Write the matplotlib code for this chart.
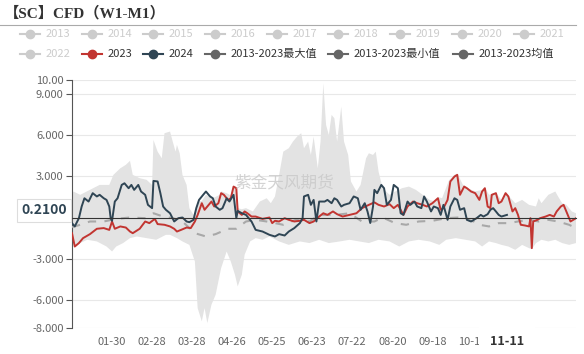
import numpy as np
import pandas as pd
import matplotlib
matplotlib.use("Agg")
import matplotlib.pyplot as plt
from matplotlib.lines import Line2D

plt.rcParams['font.family'] = ['Noto Sans CJK SC', 'DejaVu Sans']

#%% data (day index from 01-01 of a leap year, value)
dates = pd.date_range('2024-01-01', '2024-12-31').strftime('%m-%d')

red_x = [0,2,5,8,13,18,23,27,29,31,35,39,42,44,49,53,56,60,62,67,71,74,76,79,83,86,89,91,94,96,98,101,103,106,108,110,
         113,115,117,119,120,123,125,127,130,133,138,143,145,147,150,154,157,161,165,168,172,175,179,182,185,189,192,196,
         201,206,210,215,219,222,226,230,233,236,238,240,243,247,250,254,257,261,265,267,269,272,274,277,279,281,284,286,
         289,292,295,297,299,301,303,304,307,309,311,314,316,319,321,323,325,328,331,332,333,334,337,339,343,346,349,351,
         354,356,358,361,365]
red_y = [-1.14,-2.11,-1.86,-1.50,-1.21,-0.82,-0.77,-0.90,-0.29,-0.82,-0.65,-0.73,-1.02,-1.14,-0.82,-0.29,-0.41,-0.10,-0.48,
         -0.53,-0.65,-0.82,-1.02,-0.90,-0.73,-0.77,-0.29,0.19,1.04,0.56,0.80,1.16,0.80,1.04,1.77,1.65,1.28,1.40,2.25,2.13,
         0.44,0.19,0.44,0.31,0.07,0.07,-0.10,0.00,-0.41,-0.24,-0.29,-0.05,-0.17,-0.29,-0.24,-0.17,-0.41,-0.29,0.07,0.31,
         0.19,0.44,0.24,0.07,0.19,0.31,0.68,0.92,1.10,0.92,0.80,0.97,0.68,0.92,0.56,0.19,0.80,1.16,1.04,0.92,0.80,1.04,
         1.40,0.56,0.68,1.28,2.62,2.98,3.10,1.65,2.25,2.13,1.89,1.77,1.28,1.89,2.13,0.80,0.68,1.65,1.77,1.04,1.16,1.77,
         1.53,0.44,0.68,0.19,-0.53,-0.58,-0.65,-0.05,-2.23,-0.29,-0.17,-0.05,0.07,0.19,0.07,0.44,0.80,0.92,0.44,-0.29,-0.05]

dark_x = [0,2,5,7,9,12,15,18,20,23,25,27,28,29,31,33,36,38,41,43,45,48,50,53,55,58,59,62,64,66,68,71,74,77,80,83,85,88,
          90,92,95,97,100,102,104,107,109,112,114,117,118,119,120,123,126,130,133,138,143,147,150,154,157,161,165,167,168,
          171,173,175,177,179,183,185,188,190,192,195,197,201,204,207,209,212,214,216,218,219,221,224,226,228,231,233,236,
          238,240,243,245,248,250,253,255,257,260,262,265,267,269,272,274,277,279,281,284,286,289,293,296,298,301,303,305,
          307,309,311,315]
dark_y = [-0.41,-0.65,-0.05,0.80,1.40,1.16,1.77,1.53,1.65,1.40,1.28,0.80,-0.05,-0.24,1.16,1.40,2.37,2.49,2.13,2.37,2.01,
          2.37,1.89,1.65,0.92,0.68,2.66,2.62,1.77,0.80,0.56,0.31,-0.29,-0.05,0.00,-0.29,-0.34,-0.17,0.68,1.28,1.65,1.89,
          1.53,1.40,0.80,0.56,0.68,1.40,1.16,1.65,0.80,-0.05,0.48,0.31,0.19,-0.29,-0.90,-1.02,-1.26,-1.38,-1.21,-1.31,
          -1.02,-0.77,-0.41,-0.05,1.53,1.65,0.92,1.28,-0.29,1.16,1.16,1.28,1.04,1.40,1.28,0.80,0.92,1.04,1.53,1.40,0.56,
          1.04,0.44,-0.40,0.80,2.01,1.77,2.37,2.13,0.92,1.28,2.37,2.13,0.31,0.19,1.16,0.92,1.16,0.80,0.68,1.53,1.16,0.44,
          0.80,0.68,0.19,0.92,-0.17,0.80,1.40,1.28,0.56,0.68,-0.17,-0.29,-0.05,0.19,0.07,0.24,0.56,0.68,0.44,0.19,0.07,0.19]

max_x = [0,1,6,13,20,27,30,35,39,42,44,49,54,58,59,62,65,67,71,73,75,76,78,80,83,85,88,90,92,94,97,102,107,108,112,115,
         117,119,120,123,126,131,136,141,144,147,150,153,157,160,163,166,168,171,173,175,178,180,182,184,186,188,190,192,
         195,197,200,202,206,209,213,215,218,220,222,225,230,234,239,244,249,254,259,263,265,268,273,277,279,283,287,292,
         297,299,302,307,311,314,316,321,326,331,336,338,340,345,350,352,355,358,362,365]
max_y = [1.60,1.89,1.65,2.01,2.37,2.37,3.10,3.58,3.83,4.12,3.10,2.86,2.74,2.37,5.64,4.79,4.31,6.13,6.25,5.50,4.79,5.28,
         4.67,3.10,2.37,0.68,0.19,0.68,1.16,1.20,1.65,1.40,1.65,1.90,1.77,1.60,2.30,2.20,0.68,0.60,0.68,0.44,1.16,1.40,
         1.04,1.53,3.10,4.79,5.04,5.52,5.88,6.13,5.04,5.52,4.55,5.88,3.58,5.52,9.76,6.73,6.00,7.46,7.22,5.52,8.06,5.52,
         4.55,2.62,1.89,2.37,4.31,4.67,4.55,4.79,3.34,2.13,1.65,1.89,2.13,2.25,2.01,1.65,1.28,1.16,1.50,1.40,2.70,3.10,
         3.20,2.40,2.10,1.90,2.00,2.20,1.65,1.80,1.28,1.80,1.60,1.04,1.28,0.92,0.80,1.40,1.04,1.65,1.89,1.53,1.04,0.92,
         0.44,0.31]

min_x = [0,2,3,11,18,25,29,32,37,42,47,54,61,68,71,76,80,85,89,91,94,96,98,101,104,108,112,115,118,120,123,125,129,133,
         138,143,150,157,165,172,179,186,194,201,208,215,222,230,237,244,251,259,266,271,278,285,292,297,302,307,311,316,
         321,326,331,333,336,340,345,350,355,360,365]
min_y = [-1.26,-2.20,-2.00,-1.62,-1.74,-2.11,-2.47,-2.11,-1.86,-1.50,-1.38,-1.50,-1.62,-1.26,-1.26,-1.50,-1.74,-1.99,
         -3.20,-6.59,-7.55,-6.59,-7.68,-6.34,-5.62,-3.68,-2.47,-3.20,-4.16,-5.01,-4.16,-2.71,-1.74,-1.50,-1.62,-1.38,
         -1.74,-1.99,-1.74,-1.86,-1.62,-1.86,-1.74,-1.62,-1.74,-1.86,-1.62,-1.74,-2.11,-1.74,-1.62,-1.74,-1.99,-1.62,
         -1.50,-1.62,-1.74,-2.11,-1.74,-1.86,-1.99,-2.11,-2.35,-1.99,-2.23,-2.30,-1.86,-1.62,-1.74,-1.62,-1.86,-1.99,-1.86]

mean_x = [0,6,13,23,32,42,53,59,66,73,80,89,97,104,113,119,126,133,141,153,162,172,179,191,201,210,219,225,234,242,251,
          261,271,280,291,295,302,309,316,323,331,338,345,352,360,365]
mean_y = [-0.70,-0.53,-0.29,-0.29,-0.10,0.00,-0.05,0.31,0.07,-0.05,-0.29,-1.14,-1.38,-1.21,-0.82,-0.82,-0.29,-0.17,-0.29,
          -0.53,-0.17,-0.29,0.19,0.19,0.31,-0.29,-0.29,0.00,-0.41,-0.53,-0.29,-0.24,-0.05,0.00,-0.29,-0.53,-0.65,-0.41,
          -0.41,-0.29,-0.17,-0.29,-0.17,-0.29,-0.53,-0.77]

yticks = [-8, -6, -3, 0, 3, 6, 9, 10]
ytick_labels = ['-8.000', '-6.000', '-3.000', '0.000', '3.000', '6.000', '9.000', '10.00']
xtick_idx = list(range(29, 300, 29))

legend_row1 = ['2013', '2014', '2015', '2016', '2017', '2018', '2019', '2020', '2021']
legend_row2 = ['2022', '2023', '2024', '2013-2023最大值', '2013-2023最小值', '2013-2023均值']
legend_row2_col = ['#cccccc', '#c23531', '#2f4554', '#666666', '#666666', '#666666']

pointer_value = 0.21
pointer_day = 315

#%% figure
W, H = 584, 354
fig = plt.figure(figsize=(W / 100, H / 100), dpi=100)
ax = fig.add_axes([72 / W, (H - 327.5) / H, 504 / W, 247.5 / H])

band = ax.fill(np.concatenate([max_x, min_x[::-1]]), np.concatenate([max_y, min_y[::-1]]),
               color='#e3e3e3', lw=0, zorder=1)
ax.plot(mean_x, mean_y, color='#a8a8a8', lw=1.5, dashes=(4, 4), zorder=3)
ax.plot(red_x, red_y, color='#c23531', lw=1.4, zorder=4)
ax.plot(dark_x, dark_y, color='#2f4554', lw=1.4, zorder=5)

ax.set_xlim(0, 365)
ax.set_ylim(-8, 10)
ax.set_yticks(yticks, ytick_labels)
ax.set_xticks(xtick_idx, [dates[i] for i in xtick_idx])
ax.grid(axis='y', color='#e8e8e8', lw=0.8)
ax.set_axisbelow(True)
for s in ['top', 'right']:
    ax.spines[s].set_visible(False)
ax.spines['left'].set_color('#555555')
ax.spines['bottom'].set_position(('data', 0))
ax.spines['bottom'].set_color('#333333')
ax.spines['bottom'].set_zorder(6)
ax.tick_params(axis='y', length=4, color='#555555', labelcolor='#666666', labelsize=8, pad=2)
ax.tick_params(axis='x', length=4, color='#333333', labelcolor='#666666', labelsize=8, pad=82)

# axis pointer labels
ax.annotate('%.4f' % pointer_value, xy=(-0.01, pointer_value), xycoords=ax.get_yaxis_transform(),
            xytext=(0, 3), textcoords='offset points', ha='right', va='center',
            fontsize=10, fontweight='bold', color='#2f4554', zorder=10, annotation_clip=False,
            bbox=dict(boxstyle='square,pad=0.3', fc='white', ec='#dddddd', lw=0.8))
ax.annotate(dates[pointer_day], xy=(pointer_day, -8), xycoords='data',
            xytext=(0, -5.5), textcoords='offset points', ha='center', va='top',
            fontsize=9, fontweight='bold', color='#333333', zorder=10, annotation_clip=False,
            bbox=dict(boxstyle='square,pad=0.9', fc='white', ec='none'))

ax.text(0.42, 0.585, '紫金天风期货', transform=ax.transAxes, ha='center', va='center', fontsize=12,
        color='#c8c8c8', alpha=0.8, zorder=6)

#%% title and legend
fig.text(4 / W, 1 - 13 / H, '【SC】CFD（W1-M1）', fontsize=11, fontweight='bold', color='#333333',
         family=['Liberation Serif', 'Noto Sans CJK SC'], va='center')
fig.add_artist(Line2D([0, 576 / W], [1 - 25 / H] * 2, color='#aaaaaa', lw=0.8))


def legend_item(x0, y, name, col, tcol):
    fy = 1 - y / H
    fig.add_artist(Line2D([x0 / W, (x0 + 20) / W], [fy, fy], color=col, lw=1.5))
    fig.add_artist(Line2D([(x0 + 10) / W], [fy], color=col, marker='o', ms=6))
    fig.text((x0 + 26) / W, fy, name, fontsize=8, color=tcol, va='center')


row1_x = [20, 82, 143, 205, 267, 328, 390, 452, 514]
row2_x = [20, 82, 143, 205, 328, 453]
for x0, name in zip(row1_x, legend_row1):
    legend_item(x0, 34, name, '#cccccc', '#cccccc')
for x0, name, col in zip(row2_x, legend_row2, legend_row2_col):
    legend_item(x0, 54, name, col, '#cccccc' if col == '#cccccc' else '#333333')

fig.savefig('out.png', dpi=100, facecolor='white')
